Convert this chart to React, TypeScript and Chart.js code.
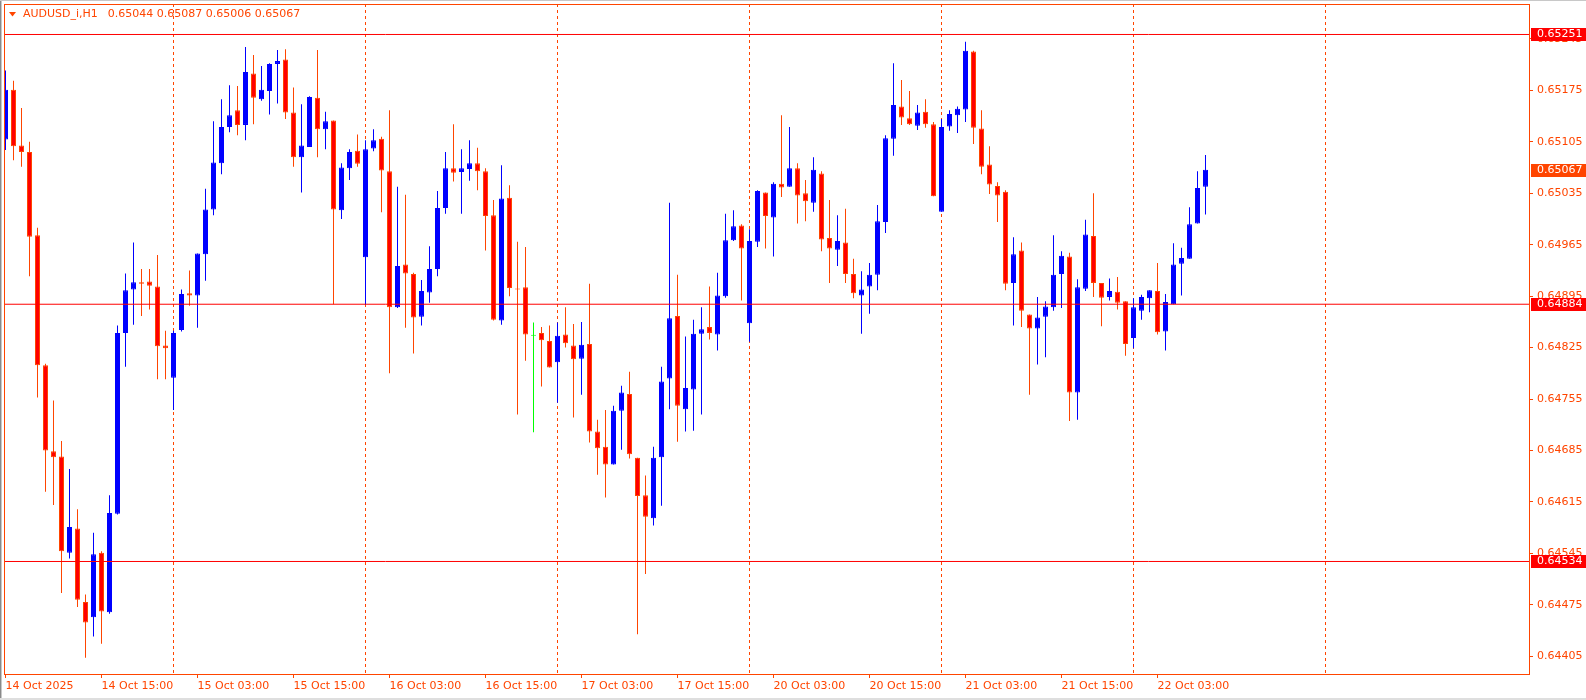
import React, { useEffect, useRef } from "react";
import { Chart, registerables } from "chart.js";

Chart.register(...registerables);

// ---- DATA (AUDUSD_i, H1, first bar 14 Oct 2025 03:00) ----
const symbolTitle = "AUDUSD_i,H1";

const opens = [
  0.65108, 0.65176, 0.65100, 0.65091, 0.64978, 0.64801, 0.64684, 0.64677, 0.64546, 0.64579,
  0.64479, 0.64458, 0.64546, 0.64465, 0.64599, 0.64845, 0.64904, 0.64914, 0.64915, 0.64908,
  0.64828, 0.64784, 0.64849, 0.64899, 0.64896, 0.64952, 0.65013, 0.65076, 0.65125, 0.65148,
  0.65128, 0.65198, 0.65163, 0.65174, 0.65211, 0.65217, 0.65145, 0.65084, 0.65098, 0.65165,
  0.65122, 0.65134, 0.65012, 0.65069, 0.65093, 0.64948, 0.65096, 0.65109, 0.65065, 0.64880,
  0.64938, 0.64925, 0.64867, 0.64900, 0.64932, 0.65015, 0.65069, 0.65064, 0.65068, 0.65076,
  0.65065, 0.65005, 0.64862, 0.65029, 0.64905, 0.64907, 0.64841, 0.64845, 0.64834, 0.64805,
  0.64843, 0.64828, 0.64810, 0.64830, 0.64711, 0.64690, 0.64666, 0.64739, 0.64762, 0.64675,
  0.64624, 0.64593, 0.64676, 0.64783, 0.64868, 0.64741, 0.64768, 0.64844, 0.64853, 0.64843,
  0.64895, 0.64971, 0.64991, 0.64858, 0.64969, 0.65036, 0.65002, 0.65048, 0.65044, 0.65069,
  0.65035, 0.65022, 0.65062, 0.64974, 0.64958, 0.64968, 0.64925, 0.64896, 0.64908, 0.64924,
  0.64996, 0.65109, 0.65153, 0.65137, 0.65127, 0.65146, 0.65129, 0.65010, 0.65126, 0.65141,
  0.65149, 0.65228, 0.65123, 0.65074, 0.65045, 0.65037, 0.64913, 0.64957, 0.64870, 0.64851,
  0.64867, 0.64880, 0.64925, 0.64949, 0.64764, 0.64905, 0.64977, 0.64913, 0.64894, 0.64901,
  0.64888, 0.64838, 0.64875, 0.64892, 0.64902, 0.64847, 0.64884, 0.64939, 0.64946, 0.64994,
  0.65044,
];
const highs = [
  0.65202, 0.65188, 0.65151, 0.65105, 0.64988, 0.64803, 0.64753, 0.64698, 0.64660, 0.64605,
  0.64489, 0.64573, 0.64548, 0.64624, 0.64855, 0.64926, 0.64968, 0.64932, 0.64932, 0.64951,
  0.64848, 0.64848, 0.64904, 0.64930, 0.64953, 0.65041, 0.65133, 0.65163, 0.65182, 0.65181,
  0.65234, 0.65223, 0.65208, 0.65212, 0.65230, 0.65231, 0.65179, 0.65156, 0.65167, 0.65230,
  0.65146, 0.65134, 0.65076, 0.65095, 0.65115, 0.65107, 0.65122, 0.65112, 0.65148, 0.65044,
  0.65033, 0.64927, 0.64917, 0.64963, 0.65038, 0.65091, 0.65129, 0.65095, 0.65107, 0.65097,
  0.65069, 0.65026, 0.65073, 0.65046, 0.64969, 0.64962, 0.64859, 0.64853, 0.64855, 0.64859,
  0.64880, 0.64857, 0.64860, 0.64912, 0.64727, 0.64740, 0.64746, 0.64773, 0.64792, 0.64675,
  0.64651, 0.64690, 0.64799, 0.65022, 0.64924, 0.64840, 0.64863, 0.64880, 0.64908, 0.64927,
  0.65007, 0.65012, 0.64993, 0.64986, 0.65039, 0.65036, 0.65050, 0.65141, 0.65125, 0.65076,
  0.65053, 0.65084, 0.65065, 0.65026, 0.65005, 0.65014, 0.64946, 0.64929, 0.64940, 0.65019,
  0.65114, 0.65212, 0.65189, 0.65174, 0.65155, 0.65163, 0.65132, 0.65136, 0.65148, 0.65153,
  0.65241, 0.65229, 0.65148, 0.65099, 0.65050, 0.65039, 0.64975, 0.64968, 0.64870, 0.64894,
  0.64888, 0.64978, 0.64956, 0.64954, 0.64918, 0.64999, 0.65035, 0.64913, 0.64919, 0.64921,
  0.64888, 0.64892, 0.64897, 0.64903, 0.64940, 0.64898, 0.64967, 0.64961, 0.65016, 0.65065,
  0.65087,
];
const lows = [
  0.65094, 0.65080, 0.65071, 0.64922, 0.64757, 0.64629, 0.64611, 0.64491, 0.64538, 0.64472,
  0.64403, 0.64432, 0.64422, 0.64463, 0.64598, 0.64799, 0.64856, 0.64868, 0.64877, 0.64782,
  0.64782, 0.64740, 0.64847, 0.64882, 0.64852, 0.64916, 0.65005, 0.65061, 0.65118, 0.65114,
  0.65107, 0.65129, 0.65161, 0.65142, 0.65157, 0.65136, 0.65071, 0.65036, 0.65098, 0.65084,
  0.65095, 0.64884, 0.65000, 0.65053, 0.65071, 0.64883, 0.65092, 0.65009, 0.64790, 0.64879,
  0.64852, 0.64817, 0.64855, 0.64886, 0.64922, 0.65007, 0.65051, 0.65007, 0.65052, 0.65039,
  0.64957, 0.64862, 0.64856, 0.64895, 0.64734, 0.64807, 0.64710, 0.64772, 0.64798, 0.64750,
  0.64825, 0.64730, 0.64761, 0.64696, 0.64652, 0.64621, 0.64666, 0.64686, 0.64674, 0.64435,
  0.64517, 0.64583, 0.64610, 0.64741, 0.64697, 0.64711, 0.64712, 0.64734, 0.64836, 0.64821,
  0.64893, 0.64970, 0.64889, 0.64833, 0.64962, 0.64960, 0.64949, 0.65030, 0.65044, 0.64994,
  0.64997, 0.65010, 0.64956, 0.64913, 0.64936, 0.64913, 0.64892, 0.64844, 0.64871, 0.64903,
  0.64981, 0.65086, 0.65128, 0.65128, 0.65121, 0.65124, 0.65031, 0.65010, 0.65120, 0.65117,
  0.65132, 0.65102, 0.65061, 0.65034, 0.64996, 0.64903, 0.64855, 0.64853, 0.64761, 0.64802,
  0.64812, 0.64875, 0.64879, 0.64725, 0.64727, 0.64902, 0.64894, 0.64854, 0.64889, 0.64877,
  0.64814, 0.64824, 0.64863, 0.64873, 0.64843, 0.64821, 0.64884, 0.64896, 0.64946, 0.64994,
  0.65006,
];
const closes = [
  0.65176, 0.65099, 0.65091, 0.64976, 0.64801, 0.64685, 0.64676, 0.64548, 0.64581, 0.64482,
  0.64451, 0.64544, 0.64466, 0.64600, 0.64845, 0.64903, 0.64914, 0.64912, 0.64909, 0.64827,
  0.64824, 0.64845, 0.64898, 0.64896, 0.64953, 0.65013, 0.65077, 0.65125, 0.65141, 0.65128,
  0.65200, 0.65165, 0.65176, 0.65211, 0.65215, 0.65145, 0.65084, 0.65100, 0.65166, 0.65122,
  0.65133, 0.65013, 0.65070, 0.65091, 0.65075, 0.65095, 0.65107, 0.65066, 0.64880, 0.64936,
  0.64926, 0.64866, 0.64902, 0.64932, 0.65015, 0.65069, 0.65063, 0.65069, 0.65076, 0.65065,
  0.65004, 0.64863, 0.65028, 0.64906, 0.64904, 0.64843, 0.64841, 0.64835, 0.64798, 0.64841,
  0.64831, 0.64809, 0.64829, 0.64711, 0.64688, 0.64666, 0.64739, 0.64764, 0.64680, 0.64623,
  0.64595, 0.64675, 0.64779, 0.64865, 0.64746, 0.64770, 0.64844, 0.64850, 0.64845, 0.64896,
  0.64971, 0.64990, 0.64960, 0.64970, 0.65038, 0.65004, 0.65048, 0.65043, 0.65069, 0.65032,
  0.65024, 0.65067, 0.64972, 0.64960, 0.64970, 0.64925, 0.64899, 0.64904, 0.64924, 0.64997,
  0.65110, 0.65155, 0.65138, 0.65129, 0.65145, 0.65129, 0.65031, 0.65125, 0.65143, 0.65150,
  0.65229, 0.65124, 0.65071, 0.65047, 0.65032, 0.64912, 0.64952, 0.64875, 0.64851, 0.64866,
  0.64881, 0.64924, 0.64950, 0.64764, 0.64907, 0.64979, 0.64913, 0.64893, 0.64902, 0.64886,
  0.64830, 0.64880, 0.64894, 0.64903, 0.64846, 0.64887, 0.64938, 0.64947, 0.64993, 0.65042,
  0.65067,
];

// time-axis labels (bar index -> label) and day separators (bar index of 00:00)
const xTickIndex = [0, 12, 24, 36, 48, 60, 72, 84, 96, 108, 120, 132, 144];
const xTickLabels = [
  "14 Oct 2025", "14 Oct 15:00", "15 Oct 03:00", "15 Oct 15:00", "16 Oct 03:00",
  "16 Oct 15:00", "17 Oct 03:00", "17 Oct 15:00", "20 Oct 03:00", "20 Oct 15:00",
  "21 Oct 03:00", "21 Oct 15:00", "22 Oct 03:00",
];
const daySeparators = [21, 45, 69, 93, 117, 141, 165];

// price axis
const yTickValues = [
  0.64405, 0.64475, 0.64545, 0.64615, 0.64685, 0.64755, 0.64825,
  0.64895, 0.64965, 0.65035, 0.65105, 0.65175, 0.65245,
];
const levelLines = [0.65251, 0.64884, 0.64534];
const currentPrice = 0.65067;

// ---- view range / styles ----
const X_MIN = -0.1875;
const X_MAX = 190.5625;
const Y_MAX = 0.65292496;
const Y_MIN = 0.64379579;

const FG = "#FF4500";
const LINE_RED = "#FF0000";
const BULL = "#0000FF";
const BEAR_FILL = "#FF0000";
const BEAR_EDGE = "#FF4500";
const DOJI = "#00FF00";
const FONT = "DejaVu Sans";

const noPad = (s: any) => {
  s.paddingTop = 0;
  s.paddingBottom = 0;
  s.paddingLeft = 0;
  s.paddingRight = 0;
};

export default function App() {
  const ref = useRef<HTMLCanvasElement | null>(null);

  useEffect(() => {
    const canvas = ref.current;
    if (!canvas) return;

    const dir = opens.map((o, i) => (closes[i] > o ? 1 : closes[i] < o ? -1 : 0));
    const bodyFill = dir.map((d) => (d > 0 ? BULL : d < 0 ? BEAR_FILL : DOJI));
    const bodyEdge = dir.map((d) => (d > 0 ? BULL : d < 0 ? BEAR_EDGE : DOJI));
    const wickColor = dir.map((d) => (d > 0 ? BULL : d < 0 ? BEAR_EDGE : DOJI));

    const bodyData = opens.map((o, i) => ({ x: i, y: [o, closes[i]] }));
    const wickData = lows.map((l, i) => ({ x: i, y: [l, highs[i]] }));

    const lineSets = levelLines.map((v) => ({
      type: "line" as const,
      data: [
        { x: X_MIN, y: v },
        { x: X_MAX, y: v },
      ],
      borderColor: LINE_RED,
      borderWidth: 1,
      pointRadius: 0,
      fill: false,
      tension: 0,
      xAxisID: "x",
      yAxisID: "y",
    }));

    const mtPlugin = {
      id: "mtDecor",
      beforeDraw(chart: any) {
        const { ctx, width, height } = chart;
        ctx.save();
        ctx.fillStyle = "#FFFFFF";
        ctx.fillRect(0, 0, width, height);
        ctx.fillStyle = "#8a8a8a";
        ctx.fillRect(0, 0, 1, height);
        ctx.fillStyle = "#c8c8c8";
        ctx.fillRect(1, 0, 1, height);
        ctx.fillRect(0, 0, width, 1);
        ctx.fillStyle = "#dedede";
        ctx.fillRect(0, height - 2, width, 2);
        ctx.restore();
      },
      afterDraw(chart: any) {
        const { ctx, chartArea: a } = chart;
        const ys = chart.scales.y;
        ctx.save();
        // frame
        ctx.strokeStyle = FG;
        ctx.lineWidth = 1;
        ctx.setLineDash([]);
        ctx.strokeRect(a.left + 0.5, a.top + 0.5, a.right - a.left - 1, a.bottom - a.top - 1);

        // header
        ctx.fillStyle = FG;
        ctx.beginPath();
        ctx.moveTo(9, 12);
        ctx.lineTo(16, 12);
        ctx.lineTo(12.5, 16.5);
        ctx.closePath();
        ctx.fill();
        ctx.font = `11px "${FONT}"`;
        ctx.textBaseline = "middle";
        ctx.textAlign = "left";
        ctx.fillText(symbolTitle, 23, 14.5);
        const n = opens.length - 1;
        const ohlc = [opens[n], highs[n], lows[n], closes[n]].map((v) => v.toFixed(5)).join(" ");
        const tw = ctx.measureText(symbolTitle).width;
        ctx.fillText(ohlc, 23 + tw + 10, 14.5);

        // price labels on the axis
        const tag = (v: number, bg: string) => {
          const y = Math.round(ys.getPixelForValue(v));
          ctx.fillStyle = bg;
          ctx.fillRect(a.right + 1, y - 6, chart.width - a.right - 1, 13);
          ctx.fillStyle = "#FFFFFF";
          ctx.fillText(v.toFixed(5), a.right + 7, y + 0.5);
        };
        levelLines.forEach((v) => tag(v, LINE_RED));
        tag(currentPrice, FG);
        ctx.restore();
      },
    };

    const chart = new Chart(canvas, {
      type: "bar",
      data: {
        datasets: [
          ...lineSets,
          {
            type: "bar" as const,
            data: bodyData as any,
            backgroundColor: bodyFill,
            borderColor: bodyEdge,
            borderWidth: 1,
            borderSkipped: false,
            barThickness: 5,
            minBarLength: 1,
            grouped: false,
            inflateAmount: 0,
            clip: 0,
            xAxisID: "x",
            yAxisID: "y",
          },
          {
            type: "bar" as const,
            data: wickData as any,
            backgroundColor: wickColor,
            borderWidth: 0,
            barThickness: 1,
            grouped: false,
            inflateAmount: 0,
            clip: 0,
            xAxisID: "x",
            yAxisID: "y",
          },
        ] as any,
      },
      options: {
        responsive: false,
        devicePixelRatio: 1,
        animation: false,
        events: [],
        layout: { padding: { left: 4, top: 4, right: 0, bottom: 0 } },
        plugins: {
          legend: { display: false },
          tooltip: { enabled: false },
          title: { display: false },
        },
        scales: {
          x: {
            type: "linear",
            position: "bottom",
            offset: false,
            min: X_MIN,
            max: X_MAX,
            afterBuildTicks: (s: any) => {
              s.ticks = xTickIndex.map((v) => ({ value: v }));
            },
            afterFit: (s: any) => {
              s.height = 25;
              noPad(s);
            },
            ticks: {
              autoSkip: false,
              maxRotation: 0,
              minRotation: 0,
              align: "start",
              padding: 2,
              color: FG,
              font: { family: FONT, size: 11 },
              callback: (v: any) => {
                const k = xTickIndex.indexOf(Number(v));
                return k >= 0 ? xTickLabels[k] : "";
              },
            },
            grid: { offset: false, drawOnChartArea: false, drawTicks: true, tickLength: 3, color: FG, lineWidth: 1 },
            border: { display: false },
          },
          xDays: {
            type: "linear",
            position: "top",
            offset: false,
            min: X_MIN,
            max: X_MAX,
            afterBuildTicks: (s: any) => {
              s.ticks = daySeparators.map((v) => ({ value: v }));
            },
            afterFit: (s: any) => {
              s.height = 0;
              noPad(s);
            },
            ticks: { display: false },
            grid: { offset: false, drawOnChartArea: true, drawTicks: false, color: FG, lineWidth: 1 },
            border: { display: false, dash: [3, 3] },
          },
          y: {
            type: "linear",
            position: "right",
            min: Y_MIN,
            max: Y_MAX,
            afterBuildTicks: (s: any) => {
              s.ticks = yTickValues.map((v) => ({ value: v }));
            },
            afterFit: (s: any) => {
              s.width = 56;
              noPad(s);
            },
            ticks: {
              autoSkip: false,
              padding: 4,
              color: FG,
              font: { family: FONT, size: 11 },
              callback: (v: any) => Number(v).toFixed(5),
            },
            grid: { drawOnChartArea: false, drawTicks: true, tickLength: 3, color: FG, lineWidth: 1 },
            border: { display: false },
          },
        },
      } as any,
      plugins: [mtPlugin],
    });

    return () => chart.destroy();
  }, []);

  return (
    <div style={{ position: "fixed", left: 0, top: 0, width: 1586, height: 700, background: "#fff" }}>
      <canvas ref={ref} width={1586} height={700} style={{ display: "block", width: 1586, height: 700 }} />
    </div>
  );
}
